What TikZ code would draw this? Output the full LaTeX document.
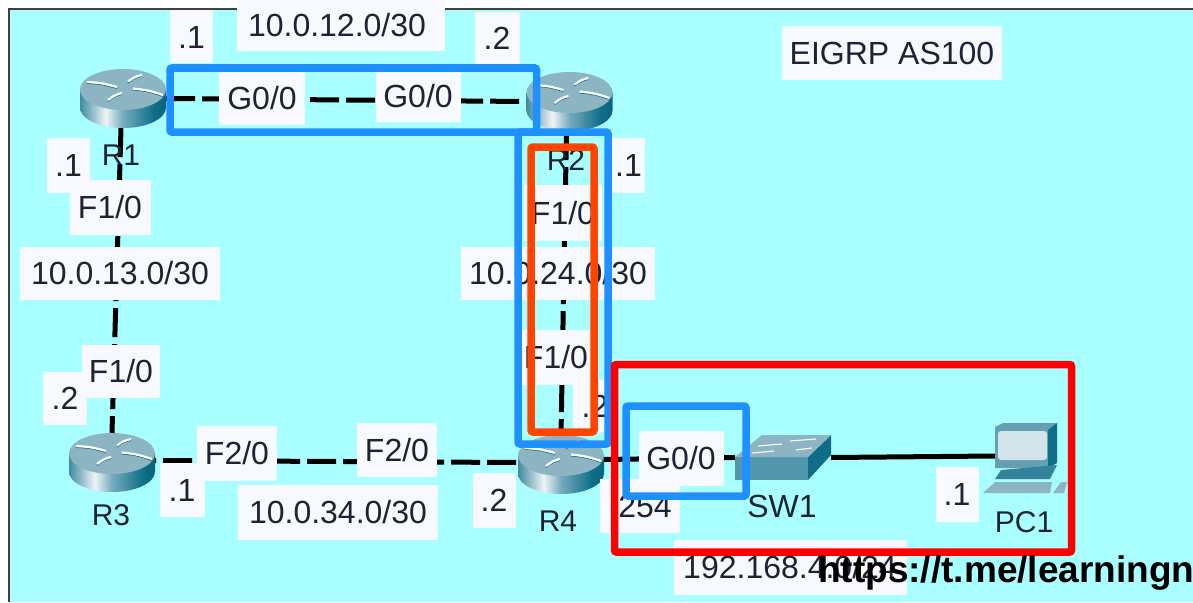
\documentclass[tikz,border=0pt]{standalone}
\usepackage{fontspec}
\setmainfont{Liberation Sans}
\definecolor{bgc}{HTML}{A9FFFF}
\definecolor{lblbg}{HTML}{F8F8FF}
\definecolor{txt}{HTML}{1C2333}
\definecolor{topc}{HTML}{8DB4C3}
\definecolor{frontc}{HTML}{5296AC}
\definecolor{sidec}{HTML}{0E6E88}
\definecolor{screenc}{HTML}{D3E4EA}
\definecolor{bluebox}{HTML}{1E90FF}
\definecolor{orangebox}{HTML}{FF4500}
\pgfdeclarehorizontalshading{routerbody}{100bp}{color(0bp)=(sidec!70!topc); color(25bp)=(sidec!60!topc); color(40bp)=(white!85!topc); color(50bp)=(frontc!80!white); color(68bp)=(sidec); color(75bp)=(sidec!90!black); color(100bp)=(sidec)}
\newcommand{\routerdraw}[1]{%
  \begin{scope}[shift={(#1)}]
    \shade[shading=routerbody] (-43,-9) -- (-43,9) .. controls (-43,20.3) and (-24,29.5) .. (0,29.5) .. controls (24,29.5) and (43,20.3) .. (43,9) -- (43,-9) -- cycle;
    \fill[topc] (0,-9) ellipse [x radius=43,y radius=20.5];
    \foreach \a/\b/\c/\d in {-36/-16.5/-6/-11.5, 5/-17/19/-23.5, 10/-10/40/-3.5, -15/1.5/-1/-5.5}{
      \draw[sidec,line width=1.5] (\a,\b+1.2) .. controls (\a/2+\c/2,\b/2+\d/2-0.5) .. (\c,\d+1.2);
      \draw[white,line width=2.2] (\a,\b) .. controls (\a/2+\c/2,\b/2+\d/2-1.5) .. (\c,\d);
    }
  \end{scope}}
\tikzset{
  x=1pt,y=-1pt,
  devbox/.style={minimum width=86,minimum height=59,inner sep=0},
  lbl/.style={fill=lblbg,text=txt,inner sep=0,text height=23,text depth=0,font=\fontsize{32}{36}\selectfont,align=center},
  devname/.style={text=txt,inner sep=0,text height=21,text depth=0,font=\fontsize{30}{34}\selectfont},
  netlink/.style={line width=5,black,dash pattern=on 29 off 7},
  sollink/.style={line width=5,black},
  hl/.style={line width=7.5,rounded corners=2},
}
\begin{document}
\begin{tikzpicture}
\useasboundingbox (0,0) rectangle (1193,602);
\clip (0,0) rectangle (1193,602);
\fill[white] (0,0) rectangle (1193,602);
\fill[bgc] (9,9) rectangle (1193,602);
\draw[black!75,line width=1.5] (9,602) -- (9,9) -- (1193,9);
% device anchors
\node[devbox] (r1) at (123,98.5) {};
\node[devbox] (r2) at (569.5,101.5) {};
\node[devbox] (r3) at (112,462.5) {};
\node[devbox] (r4) at (561,464.5) {};
\node[minimum width=96,minimum height=45,inner sep=0] (sw) at (783,457.5) {};
\node[minimum width=62,minimum height=66,inner sep=0] (pc) at (1026,456) {};
% links
\draw[netlink] (r1.east) -- (r2.west);
\draw[netlink] ([xshift=-2]r1.south) -- (r3.north);
\draw[netlink] ([xshift=-3]r2.south) -- (r4.north);
\draw[netlink,dash phase=-8] ([yshift=2]r3.east) -- ([yshift=2]r4.west);
\draw[sollink] ([yshift=5]r4.east) -- (sw.west);
\draw[sollink] (sw.east) -- (pc.west);
% devices
\routerdraw{r1}
\routerdraw{r2}
\routerdraw{r3}
\routerdraw{r4}
% switch
\fill[frontc] (735,457) rectangle (808,480);
\fill[sidec] (808,457) -- (831,435) -- (831,455) -- (808,480) -- cycle;
\fill[topc] (735,457) -- (762,435) -- (831,435) -- (808,457) -- cycle;
\foreach \a/\b/\c/\d in {758/446/782/444, 790/441/816/439, 752/453/774/451, 796/450/812/448}
  \draw[white!90!topc,line width=1.2] (\a,\b) -- (\c,\d);
% pc
\fill[frontc!70!topc] (995,427) -- (1003,423) -- (1057,423) -- (1048,468) -- (995,468) -- cycle;
\fill[sidec] (1048,430) -- (1057,423) -- (1057,463) -- (1048,468) -- cycle;
\fill[sidec!70!topc] (1001,470) -- (1057,465) -- (1050,479) -- (995,479) -- cycle;
\fill[topc] (983,493) -- (995,482) -- (1052,482) -- (1050,493) -- cycle;
\fill[topc] (1053,493) -- (1061,482) -- (1067,482) -- (1064,493) -- cycle;
\fill[screenc,rounded corners=3] (998,431) rectangle (1047,460);
% labels
\node[lbl,minimum width=43,minimum height=53] (a1) at (191.5,37) {.1};
\node[lbl,minimum width=208,minimum height=53] (n12) at (341,25) {\hspace*{-8pt}10.0.12.0/30};
\node[lbl,minimum width=45,minimum height=52] (a2) at (497,38) {.2};
\node[lbl,minimum width=220,minimum height=54] (eig) at (892,53) {EIGRP AS100};
\node[lbl,minimum width=86,minimum height=53] (g1) at (262,98) {G0/0};
\node[lbl,minimum width=85,minimum height=52] (g2) at (418,96) {G0/0};
\node[devname] (lr1) at (121,155) {R1};
\node[devname] (lr2) at (566,160) {R2};
\node[lbl,minimum width=43,minimum height=55] (b1) at (68.5,165) {.1};
\node[lbl,minimum width=33,minimum height=55] (b2) at (628.5,165) {.1};
\node[lbl,minimum width=81,minimum height=55] (f1) at (110,207) {F1/0};
\node[lbl,minimum width=78,minimum height=56] (f2) at (563,213) {F1/0};
\node[lbl,minimum width=200,minimum height=53] (n13) at (120,273) {10.0.13.0/30};
\node[lbl,minimum width=194,minimum height=53] (n24) at (558,273) {10.0.24.0/30};
\node[lbl,minimum width=78,minimum height=53] (f3) at (121,371) {F1/0};
\node[lbl,minimum width=78,minimum height=55] (f4) at (556,357) {F1/0};
\node[lbl,minimum width=44,minimum height=53] (c1) at (65,398) {.2};
\node[lbl,minimum width=44,minimum height=52] (c2) at (595,406) {.2};
\node[lbl,minimum width=80,minimum height=55] (f5) at (237,453) {F2/0};
\node[lbl,minimum width=80,minimum height=54] (f6) at (397,450) {F2/0};
\node[lbl,minimum width=45,minimum height=54] (d1) at (182,490) {.1};
\node[lbl,minimum width=200,minimum height=55] (n34) at (338,512) {10.0.34.0/30};
\node[lbl,minimum width=43,minimum height=55] (d2) at (494,500) {.2};
\node[lbl,minimum width=80,minimum height=54] (d3) at (640,506) {\hspace*{10pt}254};
\node[lbl,minimum width=85,minimum height=55] (g3) at (681,458) {G0/0};
\node[lbl,minimum width=43,minimum height=55] (d4) at (957,494) {.1};
\node[lbl,minimum width=233,minimum height=55] (n4) at (790,567) {192.168.4.0/24};
\node[devname] (lr3) at (111,515) {R3};
\node[devname] (lr4) at (558,521) {R4};
\node[devname,font=\fontsize{32}{36}\selectfont] (lsw) at (782,507) {SW1};
\node[devname] (lpc) at (1024,522) {PC1};
% highlight frames
\draw[hl,bluebox] (170,68) rectangle (536.5,132);
\draw[hl,bluebox] (518,132) rectangle (608,444);
\draw[hl,orangebox] (531,147) rectangle (594,432);
\draw[hl,red] (614.5,364.5) rectangle (1071.5,552);
\draw[hl,bluebox] (626,406) rectangle (746,496);
% watermark
\node[anchor=base west,inner sep=0,text=black,font=\fontsize{37}{40}\selectfont\bfseries] (wm) at (818,582) {https://t.me/learningn};
\end{tikzpicture}
\end{document}
